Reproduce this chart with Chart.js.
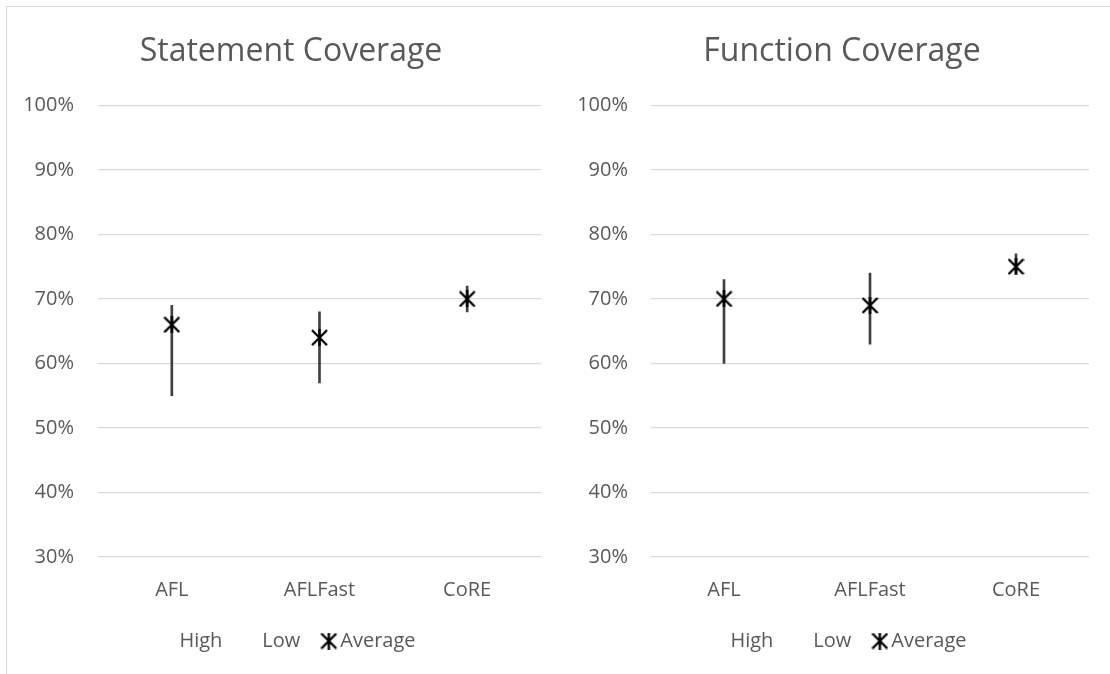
<!DOCTYPE html>
<html lang="en">
<head>
  <meta charset="UTF-8">
  <title>Statement / Function Coverage</title>
  <script src="https://cdn.jsdelivr.net/npm/chart.js"></script>
  <style>
    html, body {
      margin: 0;
      padding: 0;
      background: #fff;
      overflow: hidden;
    }
    .panel {
      position: absolute;
      top: 6px;
      width: 564px;
      height: 700px;
      border: 1px solid #d9d9d9;
      box-sizing: border-box;
      background: #fff;
    }
    #leftPanel { left: 6px; }
    #rightPanel { left: 569px; border-left: none; }
  </style>
</head>
<body>

<div class="panel" id="leftPanel"><canvas id="stmtChart" width="562" height="680"></canvas></div>
<div class="panel" id="rightPanel"><canvas id="funcChart" width="562" height="680"></canvas></div>

<script>
  // Data (percent)
  const categories = ['AFL', 'AFLFast', 'CoRE'];

  const stmtHigh = [69, 68, 72];
  const stmtLow = [55, 57, 68];
  const stmtAvg = [66, 64, 70];

  const funcHigh = [73, 74, 77];
  const funcLow = [60, 63, 74];
  const funcAvg = [70, 69, 75];

  const textColor = '#595959';
  const fontFamily = '"Open Sans", "Noto Sans", sans-serif';

  // asterisk marker: X plus a vertical stroke
  function makeMarker(size, lw) {
    const c = document.createElement('canvas');
    c.width = size;
    c.height = size;
    const g = c.getContext('2d');
    g.strokeStyle = '#000';
    g.lineWidth = lw;
    g.beginPath();
    g.moveTo(1, 1); g.lineTo(size - 1, size - 1);
    g.moveTo(size - 1, 1); g.lineTo(1, size - 1);
    g.moveTo(size / 2, 0); g.lineTo(size / 2, size);
    g.stroke();
    return c;
  }

  function makeBlank() {
    const c = document.createElement('canvas');
    c.width = 1;
    c.height = 1;
    return c;
  }

  const marker = makeMarker(17, 2.4);
  const blank = makeBlank();

  // box: layout left/right, y axis width, empty right margin width
  function buildChart(id, title, high, low, avg, box) {
    const ctx = document.getElementById(id).getContext('2d');
    return new Chart(ctx, {
      type: 'bar',
      data: {
        labels: categories,
        datasets: [
          {
            type: 'line',
            label: 'High',
            data: high,
            showLine: false,
            pointRadius: 0,
            pointStyle: blank,
            order: 1
          },
          {
            type: 'line',
            label: 'Low',
            data: low,
            showLine: false,
            pointRadius: 0,
            pointStyle: blank,
            order: 1
          },
          {
            type: 'line',
            label: 'Average',
            data: avg,
            showLine: false,
            pointStyle: marker,
            pointRadius: 9,
            order: 0
          },
          {
            // high-low line
            label: 'Range',
            data: categories.map((c, i) => [low[i], high[i]]),
            backgroundColor: '#404040',
            barThickness: 2,
            order: 2
          }
        ]
      },
      options: {
        responsive: false,
        animation: false,
        events: [],
        layout: {
          padding: { left: box.left, right: box.right, top: 0, bottom: 26 }
        },
        scales: {
          x: {
            offset: true,
            grid: { display: false },
            border: { display: false },
            ticks: {
              color: textColor,
              font: { family: fontFamily, size: 20 },
              padding: 13
            },
            afterFit: scale => { scale.height = 47; }
          },
          y: {
            min: 30,
            max: 100,
            grid: { color: '#d9d9d9', lineWidth: 1.3, drawTicks: false },
            border: { display: false },
            ticks: {
              stepSize: 10,
              color: textColor,
              font: { family: fontFamily, size: 20 },
              padding: box.tickPad,
              callback: v => v + '%'
            },
            afterFit: scale => { scale.width = box.yWidth; }
          },
          // empty margin on the right of the plot
          gap: {
            position: 'right',
            grid: { display: false, drawTicks: false },
            border: { display: false },
            ticks: { display: false },
            afterFit: scale => { scale.width = box.gap; }
          }
        },
        plugins: {
          title: {
            display: true,
            text: title,
            color: textColor,
            font: { family: fontFamily, size: 32, weight: 'normal' },
            padding: { top: 26, bottom: 34 }
          },
          legend: {
            position: 'bottom',
            labels: {
              usePointStyle: true,
              pointStyleWidth: 3,
              color: textColor,
              font: { family: fontFamily, size: 20 },
              padding: 27,
              filter: item => item.text !== 'Range',
              sort: (a, b) => a.datasetIndex - b.datasetIndex
            }
          },
          tooltip: { enabled: false }
        }
      }
    });
  }

  buildChart('stmtChart', 'Statement Coverage', stmtHigh, stmtLow, stmtAvg,
    { left: 12, right: 6, yWidth: 79, tickPad: 24, gap: 22 });
  buildChart('funcChart', 'Function Coverage', funcHigh, funcLow, funcAvg,
    { left: 5, right: 21, yWidth: 77, tickPad: 23, gap: 21 });
</script>
</body>
</html>
